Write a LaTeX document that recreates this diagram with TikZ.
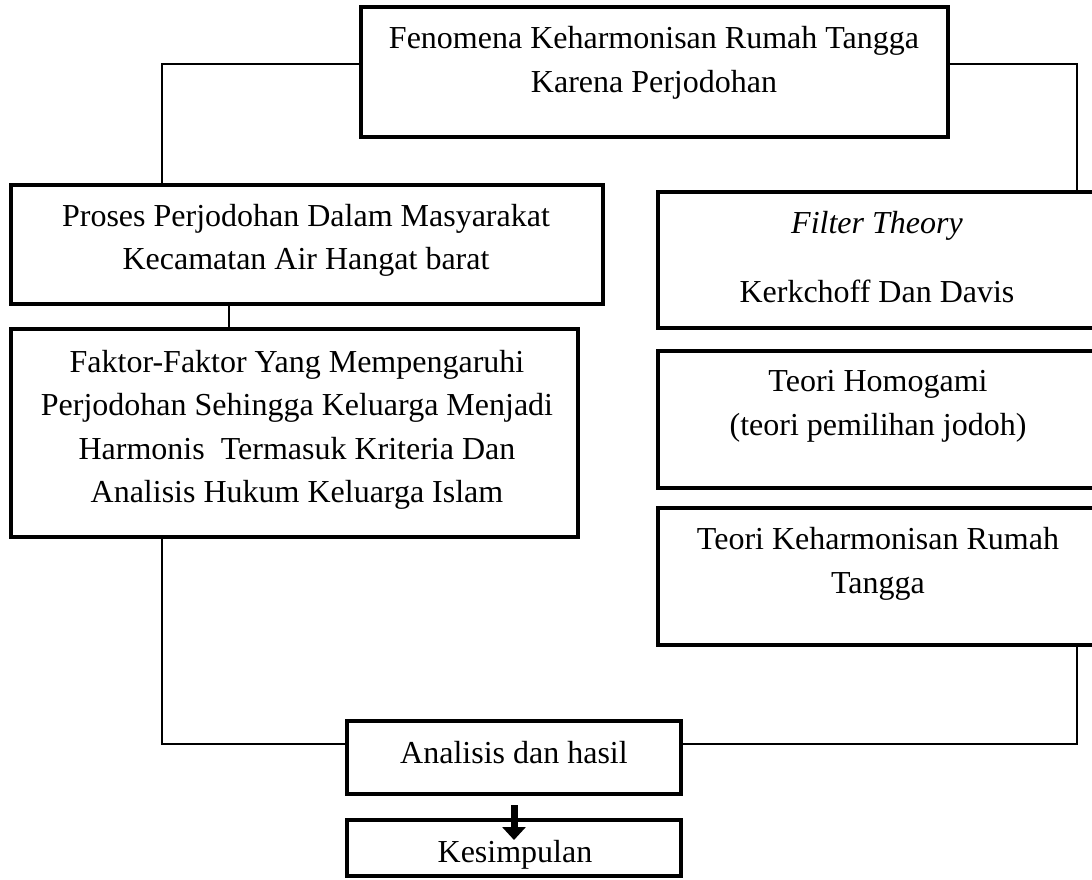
\documentclass[tikz,border=0pt]{standalone}
\usepackage{fontspec}
\setmainfont{Liberation Serif}
\usetikzlibrary{arrows.meta}
\tikzset{
  box/.style={draw=black, line width=4pt, line join=miter, inner sep=0pt, fill=none},
  txt/.style={inner sep=0pt, align=center, font=\fontsize{32}{43.5}\selectfont},
  conn/.style={draw=black, line width=1.1pt},
  bigarrow/.style={draw=black, line width=7pt, -{Triangle[width=23pt,length=13pt]}}
}
\begin{document}
\begin{tikzpicture}[x=1pt,y=-1pt]
\useasboundingbox (0,0) rectangle (1092,879);
\clip (0,0) rectangle (1092,879);
% boxes
\node[box, minimum width=587pt, minimum height=130pt] (topbox) at (654.5,72) {};
\node[box, minimum width=592pt, minimum height=119pt] (proses) at (307,244.5) {};
\node[box, minimum width=567pt, minimum height=208pt] (faktor) at (294.5,433) {};
\node[box, minimum width=438pt, minimum height=136pt] (filter) at (877,260) {};
\node[box, minimum width=438pt, minimum height=137pt] (homog) at (877,419.5) {};
\node[box, minimum width=438pt, minimum height=137pt] (kehar) at (877,576.5) {};
\node[box, minimum width=334pt, minimum height=73pt] (analisis) at (514,757.5) {};
\node[box, minimum width=334pt, minimum height=56pt] (kesimp) at (514,848) {};
% texts
\node[txt] (topbox-t) at (654,63) {Fenomena Keharmonisan Rumah Tangga\\Karena Perjodohan};
\node[txt] (proses-t) at (306,240.5) {Proses Perjodohan Dalam Masyarakat\\Kecamatan Air Hangat barat};
\node[txt] (faktor-t) at (297,430) {Faktor-Faktor Yang Mempengaruhi\\Perjodohan Sehingga Keluarga Menjadi\\Harmonis~ Termasuk Kriteria Dan\\Analisis Hukum Keluarga Islam};
\node[txt] (filter-t) at (877,257) {\textit{Filter Theory}\\[25pt]Kerkchoff Dan Davis};
\node[txt] (homog-t) at (878,406.5) {Teori Homogami\\(teori pemilihan jodoh)};
\node[txt] (kehar-t) at (878,564) {Teori Keharmonisan Rumah\\Tangga};
\node[txt, anchor=base] (analisis-t) at (514,763.5) {Analisis dan hasil};
\node[txt, anchor=base] (kesimp-t) at (515,862.5) {Kesimpulan};
% connectors
\draw[conn] (topbox.west |- 0,64) -| (proses.north -| 162,0);
\draw[conn] (topbox.east |- 0,64) -| (filter.north -| 1077,0);
\draw[conn] (proses.south -| 229,0) -- (faktor.north -| 229,0);
\draw[conn] (faktor.south -| 162,0) |- (analisis.west |- 0,744);
\draw[conn] (kehar.south -| 1077,0) |- (analisis.east |- 0,744);
\draw[bigarrow] ([yshift=-9pt]analisis.south) -- (analisis.south |- 0,840);
\end{tikzpicture}
\end{document}
